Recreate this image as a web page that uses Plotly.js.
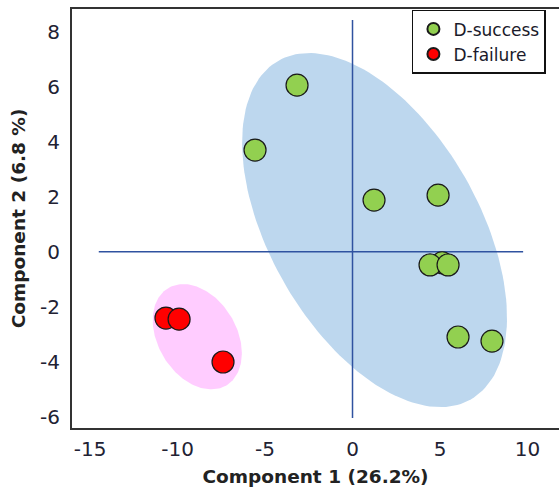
<!DOCTYPE html>
<html>
<head>
<meta charset="utf-8">
<script src="https://cdn.plot.ly/plotly-3.0.1.min.js"></script>
<style>html,body{margin:0;padding:0;background:#fff;}#chart{width:559px;height:495px;}</style>
</head>
<body>
<div id="chart"></div>
<script>
// ---- Data ----
const seriesNames = ["D-success", "D-failure"];
const successX = [5.12, -3.17, -5.57, 1.23, 4.89, 4.43, 5.46, 6.03, 7.97];
const successY = [-0.40, 6.06, 3.70, 1.88, 2.06, -0.48, -0.48, -3.10, -3.25];
const failureX = [-10.66, -9.91, -7.40];
const failureY = [-2.41, -2.45, -4.01];

// group ellipses: centre and two conjugate semi-axis vectors (data units)
const successCentre = [1.26, 0.79];
const successAxisA = [5.50, -6.16];
const successAxisB = [-5.20, -1.88];
const failureCentre = [-8.87, -3.09];
const failureAxisA = [1.66, -1.77];
const failureAxisB = [-1.93, -0.73];

// reference cross lines
const hLineX = [-14.5, 9.75];
const hLineY = [0, 0];
const vLineX = [0, 0];
const vLineY = [-6.05, 8.43];

const xTicks = [-15, -10, -5, 0, 5, 10];
const xTickText = ["-15", "-10", "-5", "0", "5", "10"];
const yTicks = [-6, -4, -2, 0, 2, 4, 6, 8];
const yTickText = ["-6", "-4", "-2", "0", "2", "4", "6", "8"];

function ellipse(c, a, b) {
  const xs = [], ys = [];
  const n = 180;
  for (let i = 0; i <= n; i++) {
    const t = 2 * Math.PI * i / n;
    xs.push(c[0] + a[0] * Math.cos(t) + b[0] * Math.sin(t));
    ys.push(c[1] + a[1] * Math.cos(t) + b[1] * Math.sin(t));
  }
  return {xs, ys};
}
const eS = ellipse(successCentre, successAxisA, successAxisB);
const eF = ellipse(failureCentre, failureAxisA, failureAxisB);

const font = "DejaVu Sans, Arial, sans-serif";

const traces = [
  {x: eS.xs, y: eS.ys, type: "scatter", mode: "lines", fill: "toself",
   fillcolor: "#bdd7ee", line: {width: 0, color: "#bdd7ee"}, showlegend: false, hoverinfo: "skip"},
  {x: eF.xs, y: eF.ys, type: "scatter", mode: "lines", fill: "toself",
   fillcolor: "#ffccff", line: {width: 0, color: "#ffccff"}, showlegend: false, hoverinfo: "skip"},
  {x: hLineX, y: hLineY, type: "scatter", mode: "lines",
   line: {color: "#2f52a0", width: 1.5}, showlegend: false, hoverinfo: "skip"},
  {x: vLineX, y: vLineY, type: "scatter", mode: "lines",
   line: {color: "#2f52a0", width: 1.5}, showlegend: false, hoverinfo: "skip"},
  {x: successX, y: successY, name: seriesNames[0], type: "scatter", mode: "markers",
   marker: {size: 22, color: "#92d050", line: {color: "#1a1a1a", width: 1.2}}},
  {x: failureX, y: failureY, name: seriesNames[1], type: "scatter", mode: "markers",
   marker: {size: 22, color: "#ff0000", line: {color: "#1a1a1a", width: 1.2}}}
];

const layout = {
  width: 559, height: 495,
  margin: {l: 72, r: 0, t: 9, b: 67, pad: 0},
  paper_bgcolor: "#ffffff", plot_bgcolor: "#ffffff",
  font: {family: font, color: "#222222"},
  xaxis: {
    range: [-16.03, 11.8], tickvals: xTicks, ticktext: xTickText, ticks: "", showgrid: false, zeroline: false,
    showline: true, linecolor: "#333333", linewidth: 2, mirror: true,
    tickfont: {size: 20, family: font, color: "#222233"}, ticklabelstandoff: 2,
    title: {text: "Component 1 (26.2%)", font: {size: 18.5, family: font, weight: "bold", color: "#222222"}, standoff: 10}
  },
  yaxis: {
    range: [-6.41, 8.83], tickvals: yTicks, ticktext: yTickText, ticks: "", showgrid: false, zeroline: false,
    showline: true, linecolor: "#333333", linewidth: 2,
    tickfont: {size: 20, family: font, color: "#222233"}, ticklabelstandoff: 6,
    title: {text: "Component 2 (6.8 %)", font: {size: 18.5, family: font, weight: "bold", color: "#222222"}, standoff: 10}
  },
  legend: {
    x: 0.698, y: 0.998, xanchor: "left", yanchor: "top",
    bgcolor: "#ffffff", bordercolor: "#111111", borderwidth: 1.5,
    font: {size: 17, family: font, color: "#1a1a2a"},
    itemsizing: "constant", tracegroupgap: 0
  },
  showlegend: true
};

Plotly.newPlot("chart", traces, layout, {displayModeBar: false, staticPlot: true});
</script>
</body>
</html>
